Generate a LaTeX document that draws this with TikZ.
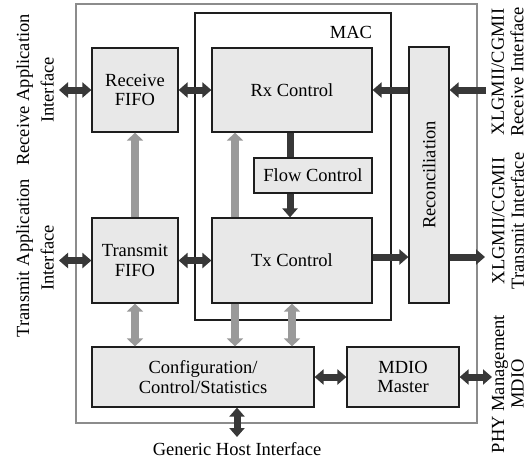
\documentclass[tikz,border=0pt]{standalone}
\usepackage{fontspec}
\setmainfont{Liberation Serif}
\usetikzlibrary{arrows.meta}
\definecolor{darkc}{HTML}{383838}
\definecolor{grayc}{HTML}{9A9A9A}
\definecolor{boxfill}{HTML}{E8E8E8}
\definecolor{boxline}{HTML}{1E1E1E}
\definecolor{outerc}{HTML}{8C8C8C}
\begin{document}
\begin{tikzpicture}[x=1pt,y=-1pt,
  every node/.style={font=\fontsize{18.5}{19.5}\selectfont},
  blk/.style={draw=boxline, fill=boxfill, line width=1.2pt, inner sep=0pt, align=center},
  darr/.style={draw=darkc, line width=7pt, >={Triangle[length=9pt,width=15pt]}},
  garr/.style={draw=grayc, line width=8pt, >={Triangle[length=8pt,width=16pt]}},
  rot/.style={rotate=90, align=center, inner sep=0pt}
]
\useasboundingbox (0,0) rectangle (530,459);
\draw[outerc, line width=1.2pt] (76,4) rectangle (477,423);
\draw[boxline, line width=1.2pt] (195,13) rectangle (391,320);
\node (mac) at (351,32.5) {MAC};

\node[blk, minimum width=86pt, minimum height=84pt] (rfifo) at (135,90) {Receive\\FIFO};
\node[blk, minimum width=86pt, minimum height=85pt] (tfifo) at (135,260.5) {Transmit\\FIFO};
\node[blk, minimum width=160pt, minimum height=84pt] (rx) at (292,90) {Rx Control};
\node[blk, minimum width=118pt, minimum height=35pt] (flow) at (313,175.5) {Flow Control};
\node[blk, minimum width=160pt, minimum height=85pt] (tx) at (292,260.5) {Tx Control};
\node[blk, minimum width=40pt, minimum height=256pt] (recon) at (429,175) {};
\node[rot] (recontext) at (recon.center) {Reconciliation};
\node[blk, minimum width=222pt, minimum height=60pt] (config) at (203,377) {Configuration/\\Control/Statistics};
\node[blk, minimum width=112pt, minimum height=60pt] (mdio) at (403,377) {MDIO\\Master};

% external labels
\node[rot] (rxapp) at (35,90) {Receive Application\\[5pt]Interface};
\node[rot] (txapp) at (35,258) {Transmit Application\\[5pt]Interface};
\node[rot] (rxphy) at (507.5,72) {XLGMII/CGMII\\Receive Interface};
\node[rot] (txphy) at (508,221) {XLGMII/CGMII\\Transmit Interface};
\node[rot] (phy) at (508,384) {PHY Management\\MDIO};
\node (host) at (237,449) {Generic Host Interface};

% free ends
\coordinate (rxappend) at (59,90);
\coordinate (txappend) at (59,260.5);
\coordinate (rxphyend) at (486,90);
\coordinate (txphyend) at (485,257);
\coordinate (phyend) at (492,377);
\coordinate (hostend) at (237,437);

% dark arrows
\draw[darr,<->] (rxappend) -- (rfifo.west);
\draw[darr,<->] (rfifo.east) -- (rx.west);
\draw[darr,->] (recon.west |- rx.east) -- (rx.east);
\draw[darr,->] (rxphyend) -- (recon.east |- rxphyend);
\draw[darr] ([xshift=-23pt]flow.north |- rx.south) -- ([xshift=-23pt]flow.north);
\draw[darr,->] ([xshift=-23pt]flow.south) -- ([xshift=-23pt]flow.south |- tx.north);
\draw[darr,<->] (txappend) -- (tfifo.west);
\draw[darr,<->] (tfifo.east) -- (tx.west);
\draw[darr,->] ([yshift=3.5pt]tx.east) -- ([yshift=3.5pt]tx.east -| recon.west);
\draw[darr,->] (recon.east |- txphyend) -- (txphyend);
\draw[darr,<->] (config.east) -- (mdio.west);
\draw[darr,<->] (mdio.east) -- (phyend);
\draw[darr,<->] (config.south -| hostend) -- (hostend);

% gray arrows
\draw[garr,->] (tfifo.north) -- (rfifo.south);
\draw[garr,->] ([xshift=-57pt]tx.north) -- ([xshift=-57pt]rx.south);
\draw[garr,<->] (tfifo.south) -- (tfifo.south |- config.north);
\draw[garr,->] ([xshift=-57pt]tx.south) -- ([xshift=-57pt]tx.south |- config.north);
\draw[garr,<->] (tx.south) -- (tx.south |- config.north);
\end{tikzpicture}
\end{document}
